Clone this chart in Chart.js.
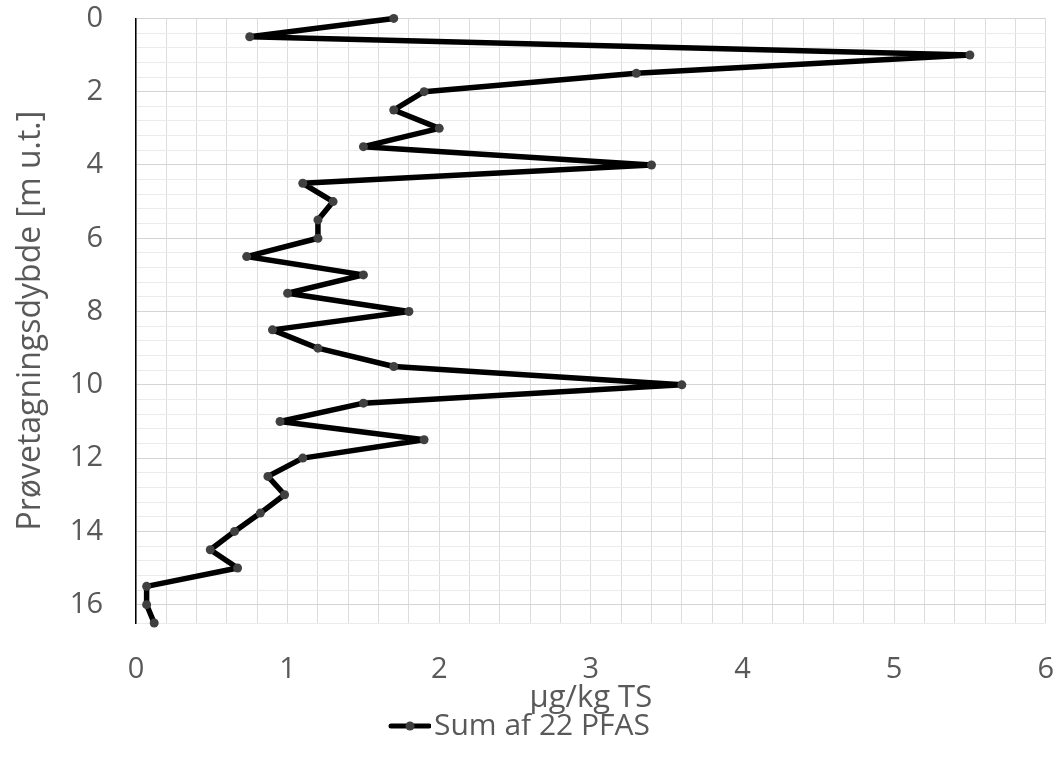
<!DOCTYPE html>
<html>
<head>
<meta charset="utf-8">
<script src="https://cdn.jsdelivr.net/npm/chart.js@4.4.1/dist/chart.umd.min.js"></script>
<style>
html,body{margin:0;padding:0;background:#fff;}
#wrap{width:1055px;height:761px;position:relative;}
</style>
</head>
<body>
<div id="wrap"><canvas id="c" width="1055" height="761"></canvas></div>
<script>
const depths = [0,0.5,1,1.5,2,2.5,3,3.5,4,4.5,5,5.5,6,6.5,7,7.5,8,8.5,9,9.5,10,10.5,11,11.5,12,12.5,13,13.5,14,14.5,15,15.5,16,16.5];
const pfasSum = [1.7,0.75,5.5,3.3,1.9,1.7,2.0,1.5,3.4,1.1,1.3,1.2,1.2,0.73,1.5,1.0,1.8,0.9,1.2,1.7,3.6,1.5,0.95,1.9,1.1,0.87,0.98,0.82,0.65,0.49,0.67,0.07,0.07,0.12];
const seriesName = 'Sum af 22 PFAS';
const xTitle = 'µg/kg TS';
const yTitle = 'Prøvetagningsdybde [m u.t.]';

const FONT = 'Open Sans';
const GREY = '#595959';

// legend marker: line with dot (line ends right before the label text)
const mk = document.createElement('canvas');
mk.width = 54; mk.height = 12;
(function(){
  const g = mk.getContext('2d');
  g.strokeStyle = '#000'; g.lineWidth = 5; g.lineCap = 'round';
  g.beginPath(); g.moveTo(14,6); g.lineTo(52,6); g.stroke();
  g.fillStyle = '#404040'; g.beginPath(); g.arc(33,6,4.5,0,Math.PI*2); g.fill();
})();

const isMult = (v, m) => Math.abs(v/m - Math.round(v/m)) < 1e-6;

const legendShift = {
  id: 'legendShift',
  afterLayout(chart) { if (chart.legend) { chart.legend.left -= 16; } }
};

new Chart(document.getElementById('c'), {
  type: 'scatter',
  data: {
    datasets: [{
      label: seriesName,
      data: depths.map((d,i) => ({x: pfasSum[i], y: d})),
      showLine: true,
      borderColor: '#000',
      borderWidth: 5.5,
      borderJoinStyle: 'round',
      pointRadius: 4.5,
      pointBackgroundColor: '#404040',
      pointBorderColor: '#404040',
      pointBorderWidth: 0,
      clip: false
    }]
  },
  plugins: [legendShift],
  options: {
    responsive: false,
    animation: false,
    devicePixelRatio: 1,
    layout: {padding: {top: 0, right: 0, bottom: 10, left: 0}},
    plugins: {
      tooltip: {enabled: false},
      legend: {
        position: 'bottom',
        labels: {
          usePointStyle: true,
          pointStyleWidth: 30,
          padding: 0,
          color: GREY,
          font: {family: FONT, size: 30},
          generateLabels(chart) {
            const items = Chart.defaults.plugins.legend.labels.generateLabels(chart);
            items.forEach(it => { it.pointStyle = mk; it.fontColor = GREY; });
            return items;
          }
        }
      }
    },
    scales: {
      x: {
        type: 'linear', min: 0, max: 6,
        ticks: {
          stepSize: 0.2, autoSkip: false, color: GREY, padding: 1,
          font: {family: FONT, size: 29},
          callback: v => isMult(v,1) ? String(Math.round(v)) : ''
        },
        grid: {color: '#dcdcdc', lineWidth: 1, drawTicks: true, tickLength: 28, tickColor: 'rgba(0,0,0,0)'},
        border: {display: false},
        title: {display: true, text: xTitle, color: GREY, font: {family: FONT, size: 31}, padding: {top: 0, bottom: -6}},
        afterFit(s) { s.height = 88; }
      },
      y: {
        type: 'linear', min: 0, max: 16.5, reverse: true,
        ticks: {
          stepSize: 0.4, autoSkip: false, color: GREY, padding: 1,
          font: {family: FONT, size: 29},
          callback: v => isMult(v,2) ? String(Math.round(v)) : ''
        },
        grid: {
          drawTicks: true, tickLength: 32, tickColor: 'rgba(0,0,0,0)',
          color: ctx => (ctx.tick && isMult(ctx.tick.value,2)) ? '#d4d4d4' : '#ebebeb',
          lineWidth: 1
        },
        border: {display: true, color: '#000', width: 1.5},
        title: {display: true, text: yTitle, color: GREY, font: {family: FONT, size: 32}, padding: {top: 12, bottom: 0}},
        afterFit(s) { s.width = 136; }
      }
    }
  }
});
</script>
</body>
</html>
